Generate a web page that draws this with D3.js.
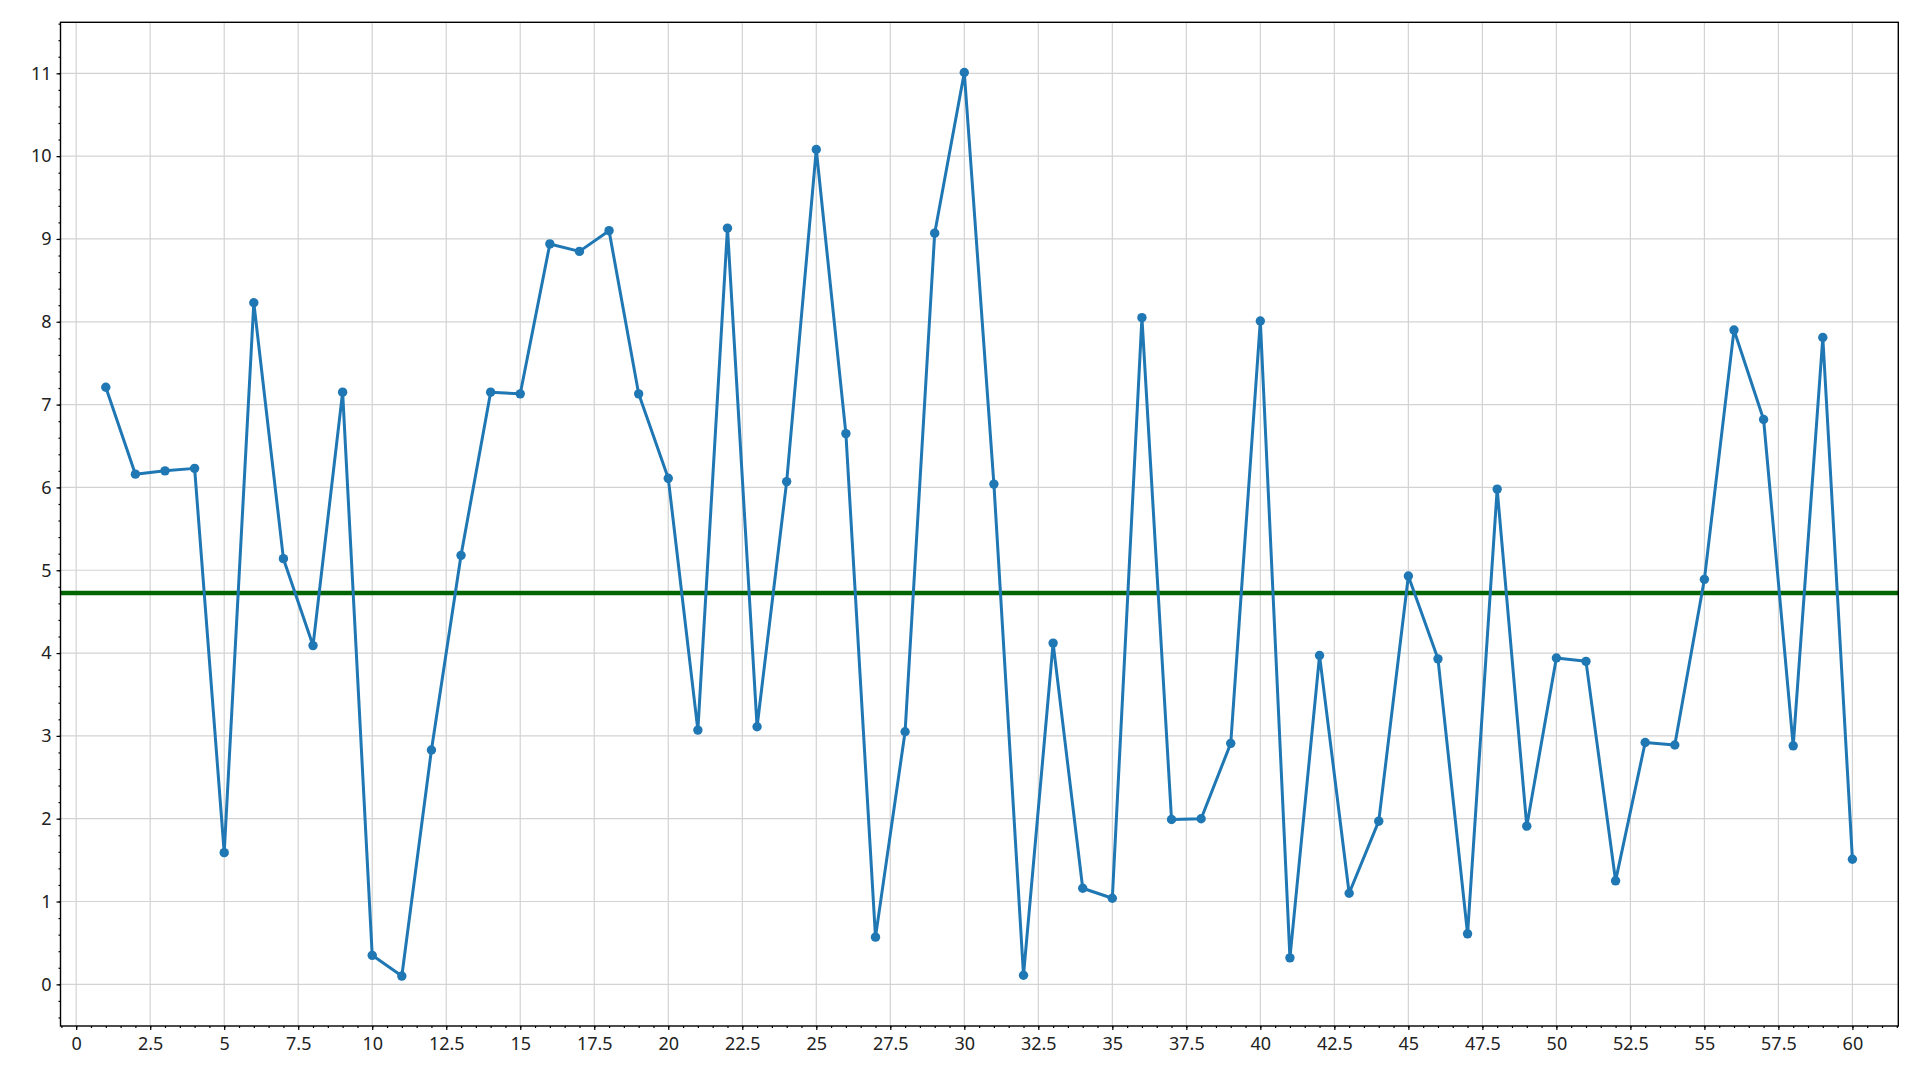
<!DOCTYPE html>
<html>
<head>
<meta charset="utf-8">
<script src="https://cdn.jsdelivr.net/npm/d3@7"></script>
<style>
  html, body { margin: 0; padding: 0; background: #fff; }
  svg { display: block; }
</style>
</head>
<body>
<svg id="chart" width="1920" height="1080"></svg>
<script>
// ---- data ----
const xValues = d3.range(1, 61);
const yValues = [
  7.21, 6.16, 6.20, 6.23, 1.59, 8.23, 5.14, 4.09, 7.15, 0.35,
  0.10, 2.83, 5.18, 7.15, 7.13, 8.94, 8.85, 9.10, 7.13, 6.11,
  3.07, 9.13, 3.11, 6.07, 10.08, 6.65, 0.57, 3.05, 9.07, 11.01,
  6.04, 0.11, 4.12, 1.16, 1.04, 8.05, 1.99, 2.00, 2.91, 8.01,
  0.32, 3.97, 1.10, 1.97, 4.93, 3.93, 0.61, 5.98, 1.91, 3.94,
  3.90, 1.25, 2.92, 2.89, 4.89, 7.90, 6.82, 2.88, 7.81, 1.51
];
const xMajorTicks = d3.range(0, 60.001, 2.5);
const xMinorTicks = d3.range(-0.5, 61.51, 0.5);
const yMajorTicks = d3.range(0, 12, 1);
const yMinorTicks = d3.range(-4, 117, 2).map(v => v / 10);
const meanValue = d3.mean(yValues);

// ---- layout ----
const W = 1920, H = 1080;
const margin = { left: 60.5, top: 22.3, right: 21.7, bottom: 54 };
const svg = d3.select("#chart");

const x = d3.scaleLinear().domain([-0.53, 61.55]).range([margin.left, W - margin.right]);
const y = d3.scaleLinear().domain([-0.503, 11.616]).range([H - margin.bottom, margin.top]);

const gridColor = "#d3d3d3";
const fontFamily = "'Noto Sans', 'Open Sans', sans-serif";

// grid
const grid = svg.append("g");
grid.selectAll("line.gx").data(xMajorTicks).join("line")
  .attr("x1", d => x(d)).attr("x2", d => x(d))
  .attr("y1", y.range()[0]).attr("y2", y.range()[1])
  .attr("stroke", gridColor).attr("stroke-width", 1.2);
grid.selectAll("line.gy").data(yMajorTicks).join("line")
  .attr("y1", d => y(d)).attr("y2", d => y(d))
  .attr("x1", x.range()[0]).attr("x2", x.range()[1])
  .attr("stroke", gridColor).attr("stroke-width", 1.2);

// mean line
svg.append("line")
  .attr("x1", x.range()[0]).attr("x2", x.range()[1])
  .attr("y1", y(meanValue)).attr("y2", y(meanValue))
  .attr("stroke", "#006400").attr("stroke-width", 4.5);

// series
const pts = xValues.map((xv, i) => [xv, yValues[i]]);
svg.append("path")
  .datum(pts)
  .attr("fill", "none")
  .attr("stroke", "#1f77b4")
  .attr("stroke-width", 3)
  .attr("stroke-linejoin", "round")
  .attr("d", d3.line().x(d => x(d[0])).y(d => y(d[1])));
svg.selectAll("circle.pt").data(pts).join("circle")
  .attr("cx", d => x(d[0])).attr("cy", d => y(d[1]))
  .attr("r", 4.7).attr("fill", "#1f77b4");

// axes
const xAxis = svg.append("g").attr("transform", `translate(0,${y.range()[0]})`)
  .call(d3.axisBottom(x).tickValues(xMajorTicks).tickSize(4).tickPadding(7)
    .tickFormat(d => String(d)));
const xMinor = svg.append("g").attr("transform", `translate(0,${y.range()[0]})`)
  .call(d3.axisBottom(x).tickValues(xMinorTicks).tickSize(2).tickFormat(""));
const yAxis = svg.append("g").attr("transform", `translate(${x.range()[0]},0)`)
  .call(d3.axisLeft(y).tickValues(yMajorTicks).tickSize(4).tickPadding(5)
    .tickFormat(d => String(d)));
const yMinor = svg.append("g").attr("transform", `translate(${x.range()[0]},0)`)
  .call(d3.axisLeft(y).tickValues(yMinorTicks).tickSize(2).tickFormat(""));

[xAxis, xMinor, yAxis, yMinor].forEach(g => {
  g.select(".domain").remove();
  g.selectAll(".tick line").attr("stroke", "#000").attr("stroke-width", 1.2);
  g.selectAll("text").attr("fill", "#222").style("font-family", fontFamily).style("font-size", "18px");
});

// frame
svg.append("rect")
  .attr("x", x.range()[0]).attr("y", y.range()[1])
  .attr("width", x.range()[1] - x.range()[0])
  .attr("height", y.range()[0] - y.range()[1])
  .attr("fill", "none").attr("stroke", "#000").attr("stroke-width", 1.4);
</script>
</body>
</html>
